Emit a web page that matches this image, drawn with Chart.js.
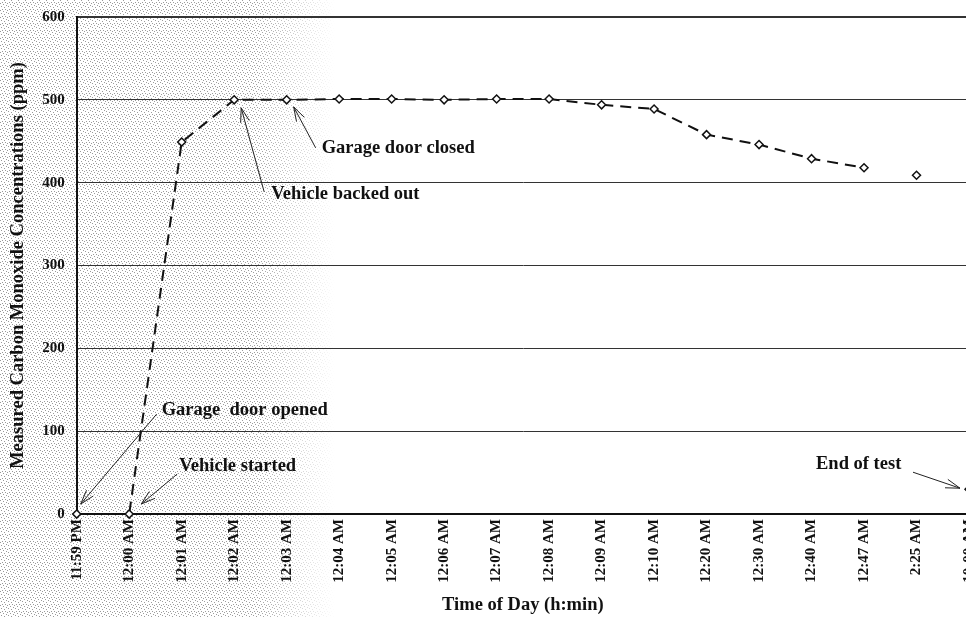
<!DOCTYPE html>
<html>
<head>
<meta charset="utf-8">
<script src="https://cdn.jsdelivr.net/npm/chart.js@4.4.0/dist/chart.umd.min.js"></script>
<style>
  html, body { margin: 0; padding: 0; background: #fff; overflow: hidden; }
  #wrap { width: 992px; height: 621px; margin-top: -4px; }
</style>
</head>
<body>
<div id="wrap"><canvas id="coChart" width="992" height="621"></canvas></div>
<script>
// time of day for each reading
const timeLabels = ['11:59 PM', '12:00 AM', '12:01 AM', '12:02 AM', '12:03 AM', '12:04 AM',
  '12:05 AM', '12:06 AM', '12:07 AM', '12:08 AM', '12:09 AM', '12:10 AM',
  '12:20 AM', '12:30 AM', '12:40 AM', '12:47 AM', '2:25 AM', '10:00 AM'];
// measured CO (ppm)
const coValues = [0, 0, 449, 500, 500, 501, 501, 500, 501, 501, 494, 489, 458, 446, 429, 418, 409, 30];
// readings after this index are not joined by the line
const lastJoined = 15;
// y ticks
const yTicks = [0, 100, 200, 300, 400, 500, 600];

const noteTexts = ['Garage  door opened', 'Vehicle started', 'Vehicle backed out', 'Garage door closed', 'End of test'];
const noteIndex = [0, 1, 3, 4, 17];

const serif = '"Liberation Serif", "Times New Roman", serif';

// grey stipple that the scan left on the left side of the page
const stipple = {
  id: 'stipple',
  beforeDraw(chart) {
    const { ctx, width, height } = chart;
    ctx.save();
    ctx.fillStyle = '#fff';
    ctx.fillRect(0, 0, width, height);
    const tile = document.createElement('canvas');
    tile.width = 7; tile.height = 7;
    const t = tile.getContext('2d');
    t.fillStyle = '#999';
    [[0, 0], [3, 1], [6, 2], [1, 3], [4, 4], [2, 6], [5, 6]].forEach(p => t.fillRect(p[0], p[1], 1, 1));
    const off = document.createElement('canvas');
    off.width = width; off.height = height;
    const o = off.getContext('2d');
    o.fillStyle = o.createPattern(tile, 'repeat');
    o.fillRect(0, 0, width, height);
    o.globalCompositeOperation = 'destination-in';
    const g = o.createLinearGradient(0, 0, width, 0);
    g.addColorStop(0, 'rgba(0,0,0,1)');
    g.addColorStop(255 / width, 'rgba(0,0,0,0.95)');
    g.addColorStop(335 / width, 'rgba(0,0,0,0)');
    g.addColorStop(1, 'rgba(0,0,0,0)');
    o.fillStyle = g;
    o.fillRect(0, 0, width, height);
    ctx.drawImage(off, 0, 0);
    ctx.restore();
  }
};

// callouts with open arrowheads
const notes = {
  id: 'notes',
  afterDraw(chart) {
    const ctx = chart.ctx;
    const xs = chart.scales.x, ys = chart.scales.y;
    // text offset and arrow (from -> to) relative to the data point
    const place = [
      { tx: 85, ty: -104, ax: 80, ay: -100, bx: 4, by: -10 },
      { tx: 50, ty: -48, ax: 48, ay: -40, bx: 12, by: -10 },
      { tx: 37, ty: 94, ax: 30, ay: 92, bx: 7, by: 8 },
      { tx: 35, ty: 48, ax: 29, ay: 48, bx: 7, by: 7 },
      { tx: -153, ty: -25, ax: -56, ay: -17, bx: -9, by: -1 }
    ];
    ctx.save();
    ctx.font = 'bold 18.5px ' + serif;
    ctx.fillStyle = '#111';
    ctx.strokeStyle = '#222';
    ctx.lineWidth = 1;
    ctx.textBaseline = 'middle';
    noteTexts.forEach((txt, i) => {
      const px = xs.getPixelForValue(noteIndex[i]);
      const py = ys.getPixelForValue(coValues[noteIndex[i]]);
      const p = place[i];
      ctx.fillText(txt, px + p.tx, py + p.ty);
      const x1 = px + p.ax, y1 = py + p.ay, x2 = px + p.bx, y2 = py + p.by;
      ctx.beginPath();
      ctx.moveTo(x1, y1);
      ctx.lineTo(x2, y2);
      const ang = Math.atan2(y2 - y1, x2 - x1);
      [0.3, -0.3].forEach(d => {
        ctx.moveTo(x2, y2);
        ctx.lineTo(x2 - 15 * Math.cos(ang + d), y2 - 15 * Math.sin(ang + d));
      });
      ctx.stroke();
    });
    ctx.restore();
  }
};

new Chart(document.getElementById('coChart'), {
  type: 'line',
  data: {
    labels: timeLabels,
    datasets: [{
      label: 'CO',
      data: coValues,
      borderColor: '#111',
      borderWidth: 2,
      borderDash: [11, 7],
      pointStyle: 'rectRot',
      pointRadius: 4,
      pointBorderWidth: 1.5,
      pointBorderColor: '#111',
      pointBackgroundColor: '#fff',
      tension: 0,
      clip: false,
      segment: {
        borderColor: c => c.p0DataIndex >= lastJoined ? 'rgba(0,0,0,0)' : '#111'
      }
    }]
  },
  options: {
    responsive: false,
    animation: false,
    events: [],
    layout: { padding: { top: 3, left: 7, right: 0, bottom: 1 } },
    plugins: { legend: { display: false }, tooltip: { enabled: false } },
    scales: {
      x: {
        offset: false,
        grid: { drawOnChartArea: false, drawTicks: false },
        border: { color: '#111', width: 2 },
        ticks: {
          autoSkip: false, minRotation: 90, maxRotation: 90, padding: 5,
          color: '#111', font: { family: serif, size: 15, weight: 'bold' }
        },
        title: {
          display: true, text: 'Time of Day (h:min)', color: '#111', padding: { top: 6, bottom: 0 },
          font: { family: serif, size: 18.5, weight: 'bold' }
        }
      },
      y: {
        min: 0, max: 600,
        afterBuildTicks: s => { s.ticks = yTicks.map(v => ({ value: v })); },
        grid: { color: '#333', lineWidth: c => c.tick && c.tick.value === 600 ? 2 : 1, drawTicks: false },
        border: { color: '#111', width: 2 },
        ticks: { padding: 12, color: '#111', font: { family: serif, size: 15, weight: 'bold' } },
        title: {
          display: true, text: 'Measured Carbon Monoxide Concentrations (ppm)', color: '#111',
          padding: { top: 0, bottom: 1 },
          font: { family: serif, size: 18.5, weight: 'bold' }
        }
      }
    }
  },
  plugins: [stipple, notes]
});
</script>
</body>
</html>
